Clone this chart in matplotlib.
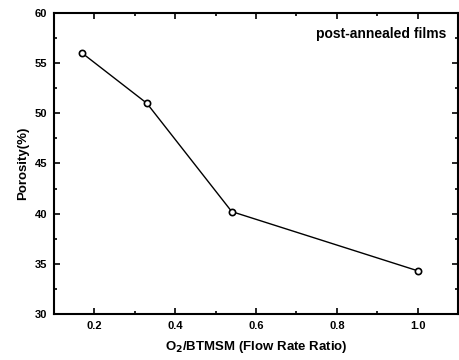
import matplotlib
matplotlib.use('Agg')
import matplotlib.pyplot as plt
from matplotlib.ticker import MultipleLocator

# flow rate ratio vs porosity
ratio = [0.17, 0.33, 0.54, 1.0]
porosity = [56.0, 51.0, 40.2, 34.3]

plt.rcParams['font.family'] = ['Liberation Sans', 'DejaVu Sans']
plt.rcParams['font.weight'] = 'bold'

fig = plt.figure(figsize=(4.6, 3.6), dpi=100)
ax = fig.add_axes([0.117, 0.128, 0.879, 0.836])

ax.plot(ratio, porosity, color='black', lw=1.0, marker='o', ms=4.5,
        mfc='white', mec='black', mew=1.2)

ax.set_xlim(0.1, 1.1)
ax.set_ylim(30, 60)
ax.xaxis.set_minor_locator(MultipleLocator(0.1))
ax.yaxis.set_major_locator(MultipleLocator(5))
ax.yaxis.set_minor_locator(MultipleLocator(2.5))
ax.set_xticks([0.2, 0.4, 0.6, 0.8, 1.0])
ax.set_xticklabels(['0.2', '0.4', '0.6', '0.8', '1.0'])
ax.tick_params(which='both', direction='in', top=True, right=True, labelsize=8, width=1.2)
ax.tick_params(which='major', length=4, pad=5)
ax.tick_params(which='minor', length=2.5)
for s in ax.spines.values():
    s.set_linewidth(1.5)

ax.set_xlabel(r'O$_2$/BTMSM (Flow Rate Ratio)', fontsize=9.5, fontweight='bold', labelpad=6)
ax.set_ylabel('Porosity(%)', fontsize=9.5, fontweight='bold', labelpad=4)
ax.text(0.97, 0.93, 'post-annealed films', transform=ax.transAxes,
        ha='right', va='center', fontsize=10, fontweight='bold')

fig.savefig('out.png', dpi=100)
